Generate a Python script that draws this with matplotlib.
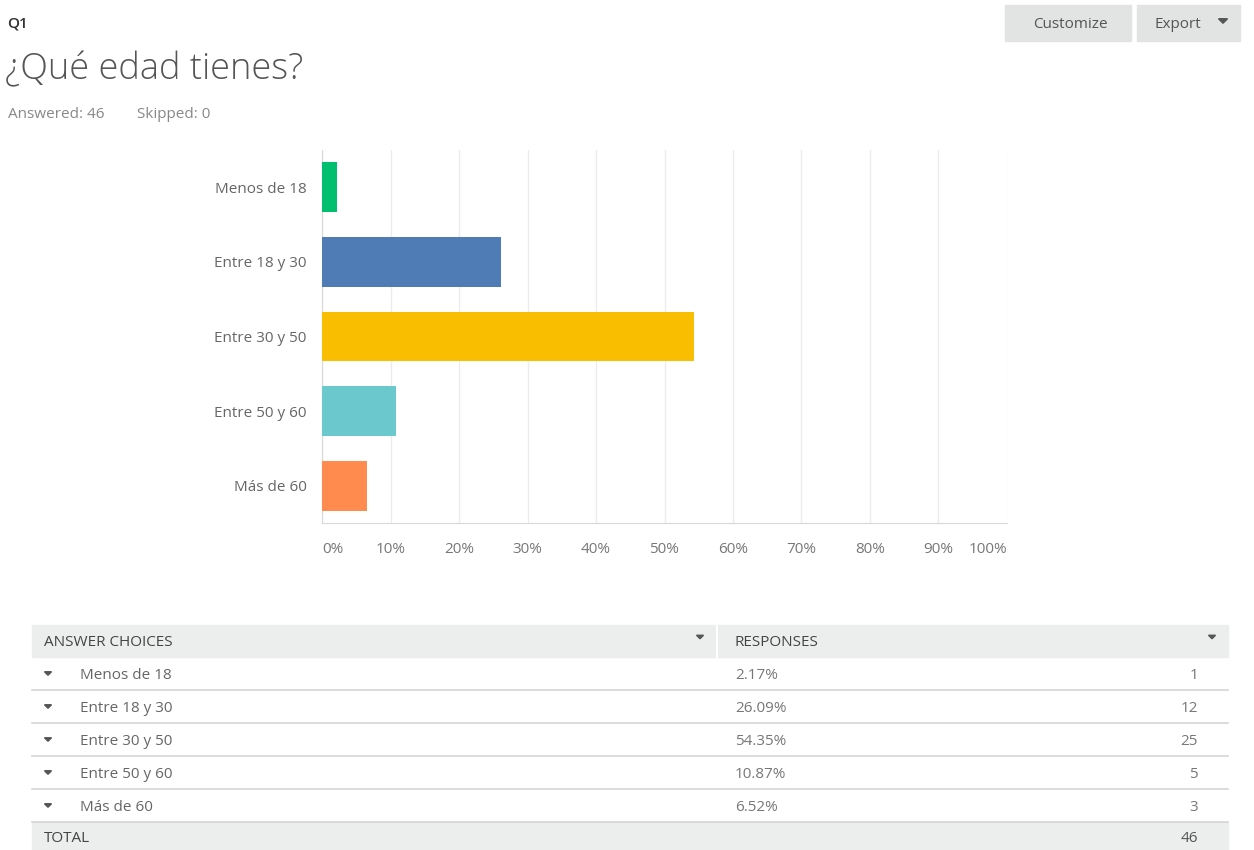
import matplotlib.pyplot as plt
from matplotlib.patches import Rectangle, Polygon

# survey results
choices = ['Menos de 18', 'Entre 18 y 30', 'Entre 30 y 50', 'Entre 50 y 60', 'Más de 60']
pct = [2.17, 26.09, 54.35, 10.87, 6.52]
counts = [1, 12, 25, 5, 3]
answered = 46
skipped = 0
colors = ['#00bf6f', '#507cb6', '#f9be00', '#6bc8cd', '#ff8b4f']
xticks = [0, 10, 20, 30, 40, 50, 60, 70, 80, 90, 100]

plt.rcParams['font.family'] = ['Open Sans', 'DejaVu Sans']

W, H = 1254, 850
fig = plt.figure(figsize=(W / 100, H / 100), dpi=100)


def px(x, y):
    # pixel coords (top-left origin) -> figure fraction
    return x / W, 1 - y / H


def ftext(x, y, s, **kw):
    # va='center' sits a little high for this font, nudge down
    fx, fy = px(x, y + 2)
    fig.text(fx, fy, s, **kw)


def frect(x0, y0, x1, y1, color):
    fx0, fy1 = px(x0, y1)
    fig.patches.append(Rectangle((fx0, fy1), (x1 - x0) / W, (y1 - y0) / H,
                                 transform=fig.transFigure, color=color, zorder=0))


def caret(x, y, size=4, color='#555555'):
    # small downward triangle
    pts = [px(x - size, y - size / 2), px(x + size, y - size / 2), px(x, y + size / 2)]
    fig.patches.append(Polygon(pts, closed=True, transform=fig.transFigure,
                               color=color, zorder=2))


def hline(y, x0=32, x1=1228, color='#d4d6d6'):
    fx0, fy = px(x0, y)
    fx1, _ = px(x1, y)
    fig.add_artist(plt.Line2D([fx0, fx1], [fy, fy], transform=fig.transFigure,
                              color=color, lw=1.2))


# header
ftext(7, 22, 'Q1', fontsize=11, color='#333333', fontweight='semibold', va='center')
ftext(5, 68, '¿Qué edad tienes?', fontsize=26, color='#555555', fontweight='light', va='center')
ftext(8, 112, f'Answered: {answered}', fontsize=11, color='#888888', va='center')
ftext(137, 112, f'Skipped: {skipped}', fontsize=11, color='#888888', va='center')

# buttons
frect(1005, 5, 1131, 41, '#e2e3e3')
ftext(1070, 23, 'Customize', fontsize=11, color='#555555', ha='center', va='center')
frect(1137, 5, 1240, 41, '#e2e3e3')
ftext(1178, 23, 'Export', fontsize=11, color='#555555', ha='center', va='center')
caret(1223, 21, size=4.5)

# bar chart
ax = fig.add_axes([322 / W, 1 - 523 / H, 685 / W, 373 / H])
ypos = range(len(choices))
ax.barh(ypos, pct, height=0.667, color=colors, zorder=3)
ax.set_xlim(0, 100)
ax.set_ylim(len(choices) - 0.5, -0.5)
ax.set_yticks(list(ypos))
ax.set_yticklabels(choices, fontsize=11, color='#666666')
ax.set_xticks(xticks)
ax.set_xticklabels([f'{t}%' for t in xticks], fontsize=11, color='#777777')
ax.tick_params(axis='both', length=0)
ax.tick_params(axis='y', pad=11)
ax.tick_params(axis='x', pad=14)
labels = ax.get_xticklabels()
labels[0].set_ha('left')
labels[-1].set_ha('right')
ax.grid(axis='x', color='#ececec', lw=1, zorder=0)
for side in ['top', 'right']:
    ax.spines[side].set_visible(False)
ax.spines['left'].set_color('#d8d8d8')
ax.spines['bottom'].set_color('#d8d8d8')

# responses table
row_h = 33
frect(32, 625, 1228, 657, '#eceeee')
ftext(44, 641, 'ANSWER CHOICES', fontsize=11, color='#444444', va='center')
caret(700, 637, size=3.5)
fx, fy0 = px(717, 625)
_, fy1 = px(717, 657)
fig.add_artist(plt.Line2D([fx, fx], [fy0, fy1], transform=fig.transFigure,
                          color='#ffffff', lw=1.5))
ftext(735, 641, 'RESPONSES', fontsize=11, color='#444444', va='center')
caret(1212, 637, size=3.5)

for i, (c, p, n) in enumerate(zip(choices, pct, counts)):
    yc = 657 + row_h * i + row_h / 2
    caret(48, yc, size=3.5)
    ftext(80, yc, c, fontsize=11, color='#666666', va='center')
    ftext(735, yc, f'{p:.2f}%', fontsize=11, color='#777777', va='center')
    ftext(1198, yc, str(n), fontsize=11, color='#777777', va='center', ha='right')
    hline(657 + row_h * (i + 1))

ytot = 657 + row_h * len(choices)
frect(32, ytot, 1228, H, '#eceeee')
ftext(44, ytot + 14, 'TOTAL', fontsize=11, color='#444444', va='center')
ftext(1198, ytot + 14, str(sum(counts)), fontsize=11, color='#555555', va='center', ha='right')

fig.savefig('out.png', dpi=100)
